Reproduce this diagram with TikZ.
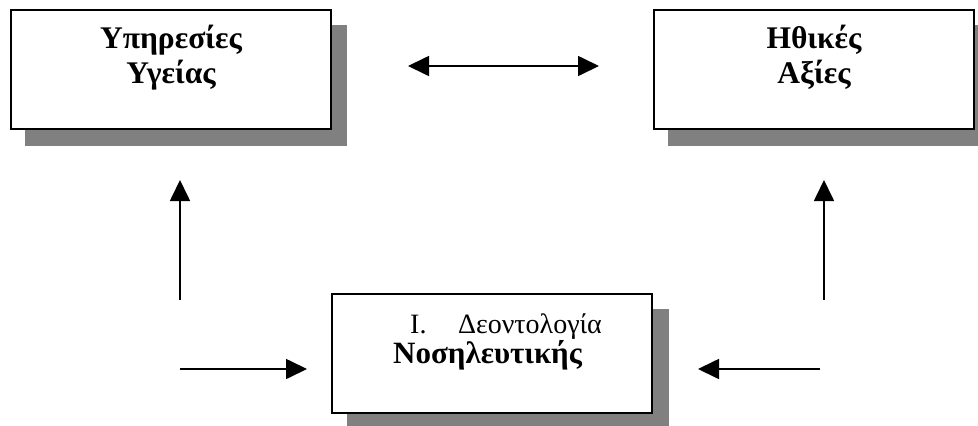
\documentclass[tikz,border=0pt]{standalone}
\usepackage{fontspec}
\setmainfont{Liberation Serif}
\usetikzlibrary{positioning,arrows.meta,shadows}
\tikzset{
  blk/.style={rectangle,draw=black,fill=white,line width=2pt,inner sep=0pt,
    minimum width=320pt,minimum height=119pt,
    drop shadow={shadow xshift=15.5pt,shadow yshift=-16pt,fill=black!50,
      draw=black!50,opacity=1}},
  ttl/.style={align=center,inner sep=0pt,font=\fontsize{31.5}{35}\selectfont\bfseries},
  sub/.style={align=left,inner sep=0pt,font=\fontsize{31}{30}\selectfont},
  flow/.style={-{Triangle[length=21pt,width=20pt]},line width=1.7pt},
  both/.style={{Triangle[length=21pt,width=20pt]}-{Triangle[length=21pt,width=20pt]},line width=1.7pt},
}
\begin{document}
\begin{tikzpicture}[x=1pt,y=-1pt]
  \useasboundingbox (0,0) rectangle (978,426);
  % τα τρία κουτιά
  \node[blk] (svc) at (170.5,69) {};
  \node[blk] (eth) at (813.5,69) {};
  \node[blk] (deo) at (492,353) {};
  % κείμενα (base = γραμμή βάσης της τελευταίας γραμμής)
  \node[ttl,anchor=base] (svctxt) at (171,83) {Υπηρεσίες\\Υγείας};
  \node[ttl,anchor=base] (ethtxt) at (814,83) {Ηθικές\\Αξίες};
  \node[sub,anchor=base west] (deotxt) at (393,363)
    {{\fontsize{28}{30}\selectfont\hspace*{17pt}I.\hspace{31.5pt}Δεοντολογία}\\\bfseries Νοσηλευτικής};
  % βέλη
  \coordinate (lu0) at (180,300);
  \coordinate (lu1) at (180,180);
  \coordinate (ru0) at (824,300);
  \coordinate (ru1) at (824,180);
  \coordinate (lh0) at (180,369);
  \coordinate (lh1) at (307,369);
  \coordinate (rh0) at (820,369);
  \coordinate (rh1) at (698,369);
  \coordinate (tl) at (408,66);
  \coordinate (tr) at (599,66);
  \draw[flow] (lu0) -- (lu1);
  \draw[flow] (ru0) -- (ru1);
  \draw[flow] (lh0) -- (lh1);
  \draw[flow] (rh0) -- (rh1);
  \draw[both] (tl) -- (tr);
\end{tikzpicture}
\end{document}
